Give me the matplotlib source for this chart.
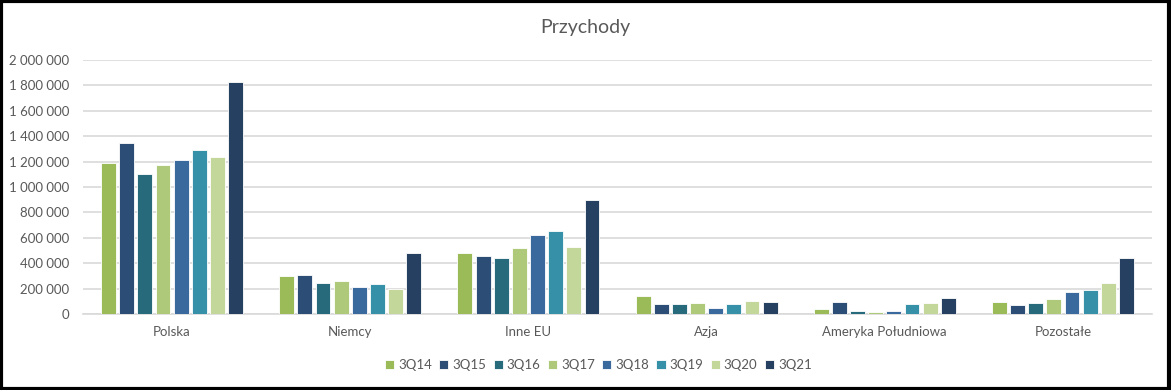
import numpy as np
import matplotlib
matplotlib.use("Agg")
from matplotlib import pyplot as plt
from matplotlib.patches import Rectangle
from matplotlib.ticker import FuncFormatter

categories = ["Polska", "Niemcy", "Inne EU", "Azja", "Ameryka Południowa", "Pozostałe"]
series_names = ["3Q14", "3Q15", "3Q16", "3Q17", "3Q18", "3Q19", "3Q20", "3Q21"]

# values per category, one entry per series (3Q14 .. 3Q21)
polska = [1190000, 1345000, 1103000, 1175000, 1213000, 1292000, 1237000, 1828000]
niemcy = [300000, 307000, 245000, 260000, 213000, 237000, 193000, 480000]
inne_eu = [480000, 458000, 442000, 520000, 622000, 655000, 528000, 895000]
azja = [145000, 81000, 81000, 89000, 50000, 81000, 105000, 97000]
ameryka_pd = [42000, 97000, 26000, 18000, 26000, 81000, 89000, 129000]
pozostale = [97000, 73000, 89000, 119000, 174000, 190000, 245000, 442000]

colors = ["#9bbb59", "#2c4d75", "#276a7c", "#afc97a",
          "#3a699e", "#3590a8", "#c4d79b", "#254061"]

plt.rcParams['font.family'] = ['Lato', 'DejaVu Sans']

data = np.array([polska, niemcy, inne_eu, azja, ameryka_pd, pozostale])

fig = plt.figure(figsize=(11.71, 3.9), dpi=100)
ax = fig.add_axes([0.0709, 0.1949, 0.9129, 0.651])

x = np.arange(len(categories))
n = len(series_names)
group_w = 0.815
slot = group_w / n
for i, name in enumerate(series_names):
    offs = -group_w / 2 + slot * (i + 0.5)
    ax.bar(x + offs, data[:, i], width=slot * 0.82, color=colors[i],
           edgecolor="white", linewidth=0.6, label=name, zorder=3)

ax.set_xlim(-0.5, len(categories) - 0.5)
ax.set_ylim(0, 2000000)
ax.set_yticks(np.arange(0, 2000001, 200000))
ax.yaxis.set_major_formatter(FuncFormatter(lambda v, p: f"{int(v):,}".replace(",", " ")))
ax.set_xticks(x)
ax.set_xticklabels(categories)
ax.grid(axis="y", color="#d9d9d9", linewidth=1.2, zorder=0)
for s in ["top", "right", "left"]:
    ax.spines[s].set_visible(False)
ax.spines["bottom"].set_color("#d9d9d9")
ax.spines["bottom"].set_linewidth(1.2)
ax.tick_params(axis="both", length=0, colors="#595959", labelsize=9.5)
ax.tick_params(axis="y", pad=10)
ax.tick_params(axis="x", pad=9)

fig.text(0.5, 0.93, "Przychody", ha="center", va="center",
         fontsize=14, color="#595959")

ax.legend(loc="upper center", bbox_to_anchor=(0.482, -0.13), ncol=n,
          frameon=False, fontsize=9.5, handlelength=0.7, handleheight=0.7,
          handletextpad=0.3, columnspacing=0.55, labelcolor="#595959")

fig.patches.append(Rectangle((0.001, 0.002), 0.997, 0.995, transform=fig.transFigure,
                             fill=False, edgecolor="black", linewidth=3))

fig.savefig("out.png", dpi=100, facecolor="white")
